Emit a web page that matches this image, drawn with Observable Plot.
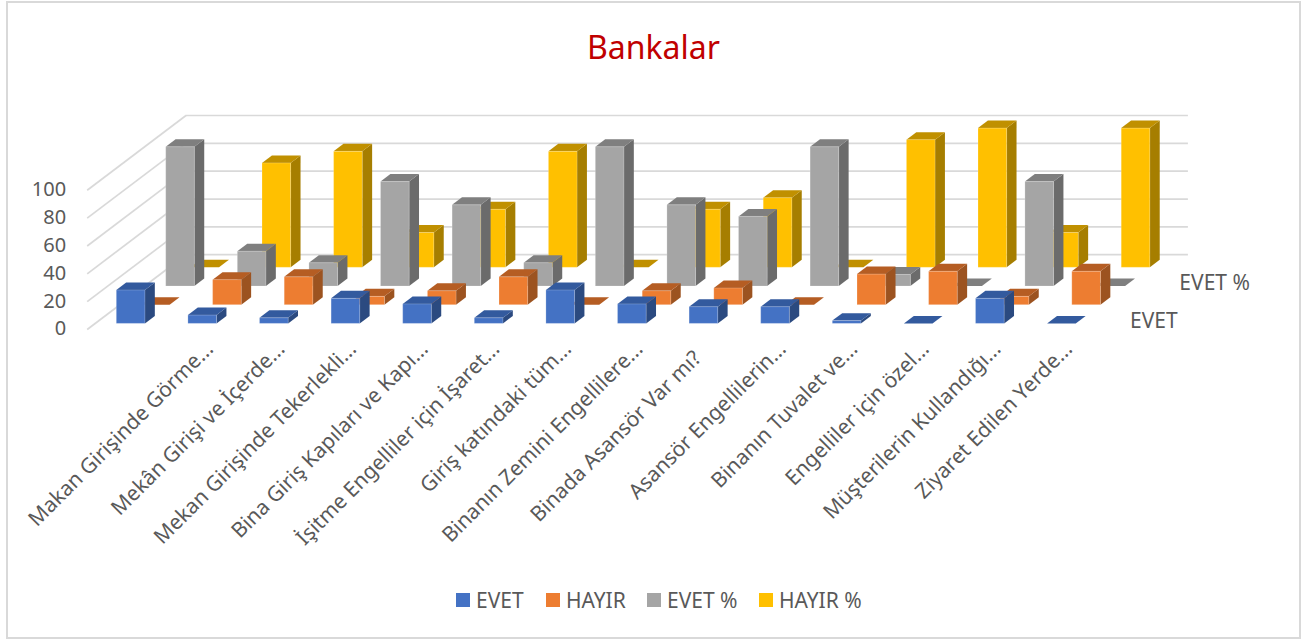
<!DOCTYPE html>
<html lang="tr"><head><meta charset="utf-8">
<script src="https://cdn.jsdelivr.net/npm/d3@7"></script>
<script src="https://cdn.jsdelivr.net/npm/@observablehq/plot@0.6"></script>
<style>
html,body{margin:0;padding:0;background:#fff;width:1309px;height:639px;overflow:hidden}
body{font-family:"Noto Sans",sans-serif;color:#595959;position:relative}
#frame{position:absolute;left:6px;top:1px;width:1291px;height:634px;border:2px solid #D9D9D9}
#title{position:absolute;left:0;width:1307px;top:25px;text-align:center;font-size:32px;line-height:44px;color:#C00000}
#chart{position:absolute;left:0;top:90px}
#legend{position:absolute;left:0;top:587px;height:26px;font-size:21px;line-height:26px}
#legend span{position:absolute;white-space:nowrap}
#legend i{position:absolute;top:6px;width:14px;height:14px}
</style></head><body>
<div id="frame"></div>
<div id="title">Bankalar</div>
<div id="chart"></div>
<div id="legend"></div>
<script>
const categories = ["",
  "Makan Girişinde Görme...","Mekân Girişi ve İçerde...","Mekan Girişinde Tekerlekli...",
  "Bina Giriş Kapıları ve Kapı...","İşitme Engelliler için İşaret...","Giriş katındaki tüm...",
  "Binanın Zemini Engellilere...","Binada Asansör Var mı?","Asansör Engellilerin...",
  "Binanın Tuvalet ve...","Engelliler için özel...","Müşterilerin Kullandığı...","Ziyaret Edilen Yerde..."];
const seriesNames = ["EVET","HAYIR","EVET %","HAYIR %"];
const evet      = [24,6,4,18,14,4,24,14,12,12,2,0,18,0];
const hayir     = [0,18,20,6,10,20,0,10,12,0,22,24,6,24];
const evetPct   = [100,25,16.7,75,58.3,16.7,100,58.3,50,100,8.3,0,75,0];
const hayirPct  = [0,75,83.3,25,41.7,83.3,0,41.7,50,0,91.7,100,25,100];
const yTicks = [0,20,40,60,80,100];
const wallTicks = [0,20,40,60,80,100];
const frontColors = ["#4472C4","#ED7D31","#A5A5A5","#FFC000"];
const topColors   = ["#335A9E","#B55D23","#7F7F7F","#C09000"];
const sideColors  = ["#2B4A80","#9C5320","#6B6B6B","#A67E00"];

const values = [evet,hayir,evetPct,hayirPct];
const kx = 0.345, ky = 13.43, depth = 4;     // oblique depth projection, in scale units
const X = (c,d) => c + kx*d;
const Y = (v,d) => v + ky*d;
const T = 90;

const marks = [];
// walls
marks.push(Plot.ruleY(wallTicks,{x1:X(0,depth),x2:X(14,depth),y:v=>Y(v,depth),stroke:"#D9D9D9",strokeWidth:1.7}));
marks.push(Plot.link(wallTicks,{x1:X(0,0),y1:v=>Y(v,0),x2:X(0,depth),y2:v=>Y(v,depth),stroke:"#D9D9D9",strokeWidth:1.7}));
// bars, back series first
for (let s=3;s>=0;s--){
  const d1=s+0.3,d2=s+0.7;
  const bars=values[s].map((v,c)=>({c,v,x1:c+0.31,x2:c+0.71}));
  const sidePts=bars.flatMap(b=>[d1,d2].map(d=>({c:b.c,x:X(b.x2,d),y1:Y(0,d),y2:Y(b.v,d)})));
  const topPts=bars.flatMap(b=>[d1,d2].map(d=>({c:b.c,y:Y(b.v,d),x1:X(b.x1,d),x2:X(b.x2,d)})));
  marks.push(Plot.areaY(sidePts.filter(p=>p.y2>p.y1),{x:"x",y1:"y1",y2:"y2",z:"c",fill:sideColors[s]}));
  marks.push(Plot.areaX(topPts,{y:"y",x1:"x1",x2:"x2",z:"c",fill:topColors[s]}));
  marks.push(Plot.rect(bars.filter(b=>b.v>0),{x1:b=>X(b.x1,d1),x2:b=>X(b.x2,d1),y1:()=>Y(0,d1),y2:b=>Y(b.v,d1),fill:frontColors[s],stroke:"#fff",strokeOpacity:0.2,strokeWidth:1}));
}
// value axis labels
marks.push(Plot.text(yTicks,{x:()=>0,y:v=>v,text:v=>String(v),textAnchor:"end",dx:-21,dy:-0.5,fontSize:20,fill:"#595959"}));
// series axis labels (every other series)
marks.push(Plot.text([0,2],{x:s=>X(14,s+0.5),y:s=>Y(0,s+0.5),text:s=>seriesNames[s],textAnchor:"start",dx:28,dy:1,fontSize:21,fill:"#595959"}));
// category labels: truncated ones and the single full one sit differently
const labelled = categories.map((t,c)=>({t,c}));
const catText = (rows,dx,dy) => Plot.text(rows,{x:d=>d.c+0.5,y:()=>0,text:"t",rotate:-45,textAnchor:"end",dx,dy,fontSize:21,fill:"#595959"});
marks.push(catText(labelled.filter(d=>d.t.endsWith("...")),15,16));
marks.push(catText(labelled.filter(d=>!d.t.endsWith("...")&&d.t),2,25));

const chart = Plot.plot({
  width:1309,height:480,margin:0,
  style:{background:"transparent",fontFamily:'"Noto Sans",sans-serif',overflow:"visible"},
  x:{type:"linear",domain:[0,X(14,depth)],range:[86.7,86.7+71.6*X(14,depth)],axis:null},
  y:{type:"linear",domain:[0,Y(100,depth)],range:[329-T,115-T],axis:null},
  marks
});
document.getElementById("chart").append(chart);

const lg=document.getElementById("legend");
const swatchX=[456,546,647,759];
seriesNames.forEach((n,i)=>{
  const sw=document.createElement("i");sw.style.left=swatchX[i]+"px";sw.style.background=frontColors[i];lg.append(sw);
  const t=document.createElement("span");t.textContent=n;t.style.left=(swatchX[i]+20)+"px";lg.append(t);
});
</script>
</body></html>
